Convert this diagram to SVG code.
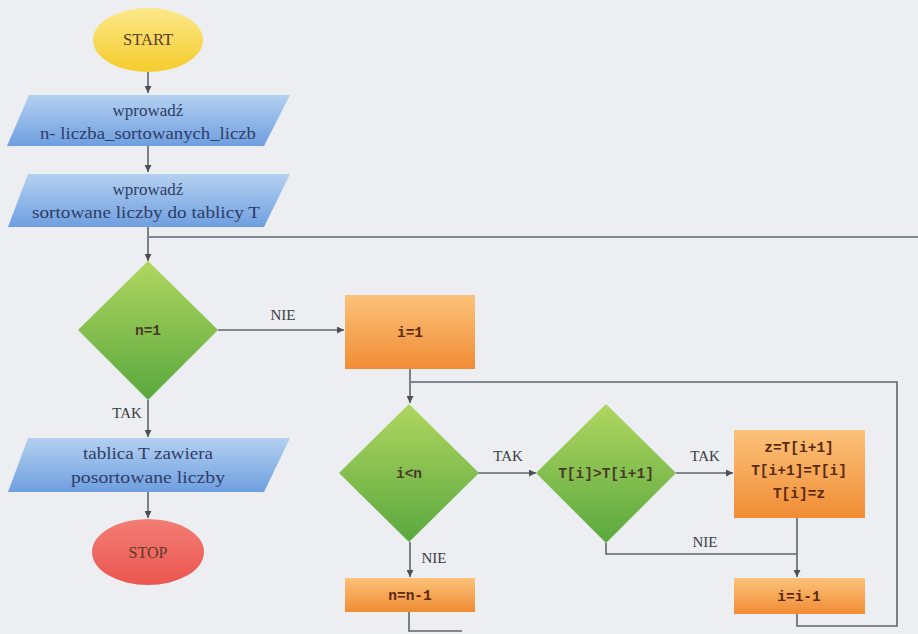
<svg xmlns="http://www.w3.org/2000/svg" width="918" height="634" viewBox="0 0 918 634">
<defs>
<linearGradient id="gYel" x1="0" y1="0" x2="0" y2="1"><stop offset="0" stop-color="#fbe88a"/><stop offset="1" stop-color="#f6cc2c"/></linearGradient>
<linearGradient id="gRed" x1="0" y1="0" x2="0" y2="1"><stop offset="0" stop-color="#f27d74"/><stop offset="1" stop-color="#ec5650"/></linearGradient>
<linearGradient id="gBlue" x1="0" y1="0" x2="0" y2="1"><stop offset="0" stop-color="#b4d0f0"/><stop offset="1" stop-color="#6f9fe0"/></linearGradient>
<linearGradient id="gGreen" x1="0" y1="0" x2="0" y2="1"><stop offset="0" stop-color="#b0d660"/><stop offset="1" stop-color="#5aa83e"/></linearGradient>
<linearGradient id="gOrange" x1="0" y1="0" x2="0" y2="1"><stop offset="0" stop-color="#fcc27a"/><stop offset="1" stop-color="#f08c34"/></linearGradient>
<marker id="arr" viewBox="0 0 10 10" refX="10" refY="5" markerWidth="7" markerHeight="7" orient="auto" markerUnits="userSpaceOnUse"><path d="M0,0 L10,5 L0,10 z" fill="#4a5058"/></marker>
<style>
.bg{fill:#eceef1}
.ln{fill:none;stroke:#5e646c;stroke-width:1.6}
.lbl{font-family:"Liberation Serif","DejaVu Serif",serif;font-size:15px;fill:#3a3e44;text-anchor:middle}
.io{font-family:"Liberation Serif","DejaVu Serif",serif;font-size:17px;fill:#2e3d66;text-anchor:middle}
.term{font-family:"Liberation Serif","DejaVu Serif",serif;font-size:16px;fill:#5a3a30;text-anchor:middle}
.code{font-family:"Liberation Mono","DejaVu Sans Mono",monospace;font-size:14.5px;font-weight:bold;fill:#4a3a28;text-anchor:middle}
.codeO{font-family:"Liberation Mono","DejaVu Sans Mono",monospace;font-size:14.5px;font-weight:bold;fill:#5a2a10;text-anchor:middle}
</style>
</defs>
<rect class="bg" x="0" y="0" width="918" height="634"/>

<g id="connectors">
<path class="ln" d="M148,72 V93" marker-end="url(#arr)"/>
<path class="ln" d="M148,146 V172" marker-end="url(#arr)"/>
<path class="ln" d="M148,227 V261" marker-end="url(#arr)"/>
<path class="ln" d="M918,237 H149"/>
<path class="ln" d="M218,330 H344" marker-end="url(#arr)"/>
<path class="ln" d="M148,400 V437" marker-end="url(#arr)"/>
<path class="ln" d="M148,492 V518" marker-end="url(#arr)"/>
<path class="ln" d="M410,369 V403" marker-end="url(#arr)"/>
<path class="ln" d="M797,614 V626 H897 V382 H411"/>
<path class="ln" d="M478,473 H536" marker-end="url(#arr)"/>
<path class="ln" d="M676,473 H733" marker-end="url(#arr)"/>
<path class="ln" d="M606,543 V554 H797"/>
<path class="ln" d="M797,518 V577" marker-end="url(#arr)"/>
<path class="ln" d="M410,542 V577" marker-end="url(#arr)"/>
<path class="ln" d="M409,612 V631 H462"/>
</g>

<g id="start"><ellipse cx="148" cy="40" rx="55" ry="32" fill="url(#gYel)"/><text class="term" x="148" y="45" textLength="50" lengthAdjust="spacingAndGlyphs">START</text></g>

<g id="input1"><polygon points="29,95 290,95 264,146 7,146" fill="url(#gBlue)"/><text class="io" x="148" y="116">wprowadź</text><text class="io" x="148" y="139" textLength="216" lengthAdjust="spacingAndGlyphs">n- liczba_sortowanych_liczb</text></g>

<g id="input2"><polygon points="28,174 290,174 264,227 8,227" fill="url(#gBlue)"/><text class="io" x="148" y="195">wprowadź</text><text class="io" x="146" y="218" textLength="228" lengthAdjust="spacingAndGlyphs">sortowane liczby do tablicy T</text></g>

<g id="dec_n1"><polygon points="148,261 218,330 148,400 78,330" fill="url(#gGreen)"/><text class="code" x="148" y="335">n=1</text></g>
<text class="lbl" x="283" y="320">NIE</text>
<text class="lbl" x="127" y="418">TAK</text>

<g id="output"><polygon points="28,438 290,438 264,492 8,492" fill="url(#gBlue)"/><text class="io" x="148" y="459" textLength="130" lengthAdjust="spacingAndGlyphs">tablica T zawiera</text><text class="io" x="148" y="483" textLength="154" lengthAdjust="spacingAndGlyphs">posortowane liczby</text></g>

<g id="stop"><ellipse cx="148" cy="552" rx="56" ry="33" fill="url(#gRed)"/><text class="term" x="148" y="558">STOP</text></g>

<g id="i1"><rect x="345" y="295" width="130" height="74" fill="url(#gOrange)"/><text class="codeO" x="410" y="337">i=1</text></g>

<g id="dec_in"><polygon points="409,404 479,473 409,542 339,473" fill="url(#gGreen)"/><text class="code" x="409" y="478">i&lt;n</text></g>
<text class="lbl" x="508" y="461">TAK</text>
<text class="lbl" x="434" y="563">NIE</text>

<g id="dec_T"><polygon points="606,404 676,473 606,543 536,473" fill="url(#gGreen)"/><text class="code" x="606" y="478">T[i]&gt;T[i+1]</text></g>
<text class="lbl" x="705" y="461">TAK</text>
<text class="lbl" x="705" y="547">NIE</text>

<g id="swap"><rect x="734" y="430" width="131" height="88" fill="url(#gOrange)"/><text class="codeO" x="799" y="452">z=T[i+1]</text><text class="codeO" x="799" y="475">T[i+1]=T[i]</text><text class="codeO" x="799" y="498">T[i]=z</text></g>

<g id="dec_i"><rect x="734" y="578" width="131" height="36" fill="url(#gOrange)"/><text class="codeO" x="799" y="601">i=i-1</text></g>

<g id="dec_n"><rect x="345" y="578" width="130" height="34" fill="url(#gOrange)"/><text class="codeO" x="410" y="600">n=n-1</text></g>
</svg>
